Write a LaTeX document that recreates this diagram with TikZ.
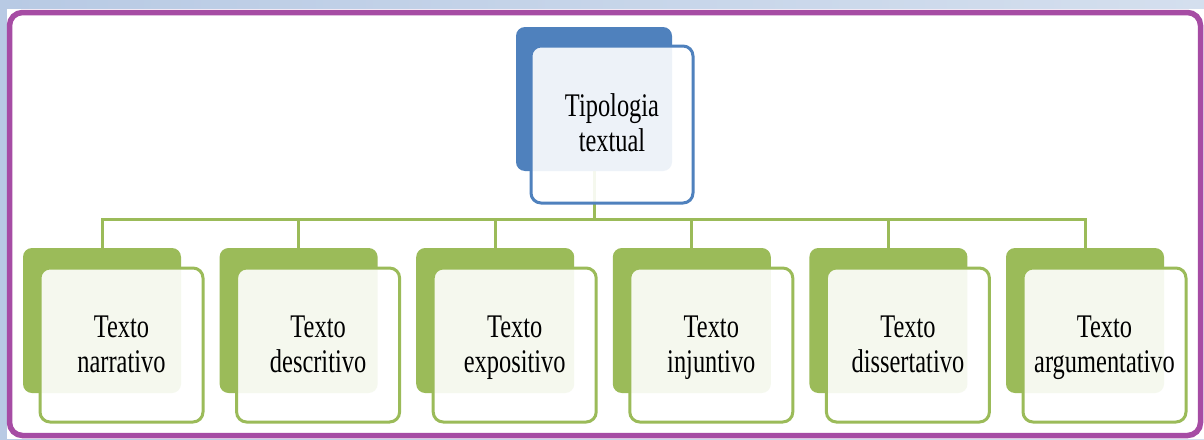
\documentclass[tikz,border=0pt]{standalone}
\usepackage{fontspec}
\setmainfont{Liberation Serif}[FakeStretch=0.74]
\pgfdeclarelayer{background}
\pgfsetlayers{background,main}
\definecolor{pblue}{HTML}{4F81BD}
\definecolor{pgreen}{HTML}{9BBB59}
\definecolor{ppurple}{HTML}{A64CA4}
\definecolor{bgleft}{HTML}{B8CAE4}
\definecolor{bgright}{HTML}{D4DFEE}
\newcommand\lnstrut{\rule[-8pt]{0pt}{35pt}}
\tikzset{
  backbox/.style={rounded corners=9pt, anchor=north west, inner sep=0pt, outer sep=0pt},
  frontbox/.style={rounded corners=10pt, anchor=north west, inner sep=0pt, outer sep=0pt,
    line width=3pt, fill=white, fill opacity=0.9, text opacity=1, align=center,
    font=\fontsize{33}{35}\selectfont},
  conn/.style={draw=pgreen, line width=3pt},
}
\begin{document}
\begin{tikzpicture}[x=1pt,y=-1pt]
\useasboundingbox (0,0) rectangle (1204,439);
% top node
\node[backbox, fill=pblue, minimum width=156pt, minimum height=144pt] (tb) at (516,27) {};
\node[frontbox, draw=pblue, minimum width=162pt, minimum height=157pt] (tf) at (531,46) {\lnstrut Tipologia\\\lnstrut textual};
% children
\foreach \i/\t in {1/narrativo,2/descritivo,3/expositivo,4/injuntivo,5/dissertativo,6/argumentativo}{
  \pgfmathsetmacro{\xx}{23+196.6*(\i-1)}
  \node[backbox, fill=pgreen, minimum width=158pt, minimum height=145pt] (c\i b) at (\xx,248) {};
  \node[frontbox, draw=pgreen, minimum width=163pt, minimum height=154pt] (c\i f) at (\xx+17,268) {\lnstrut Texto\\\lnstrut \t};
}
\begin{pgfonlayer}{background}
  \shade[left color=bgleft, right color=bgright] (0,0) rectangle (1204,439);
  \fill[white] (7,9) rectangle (1204,439);
  \draw[ppurple, line width=5.5pt, rounded corners=13pt] (9.5,12.5) rectangle (1200.5,435.5);
  \coordinate (bar) at (0,219);
  \draw[conn] (tb.south) -- (tb.south |- bar);
  \draw[conn] (c1b.north) -- (c1b.north |- bar) -- (c6b.north |- bar) -- (c6b.north);
  \foreach \i in {2,...,5}{\draw[conn] (c\i b.north) -- (c\i b.north |- bar);}
\end{pgfonlayer}
\end{tikzpicture}
\end{document}
